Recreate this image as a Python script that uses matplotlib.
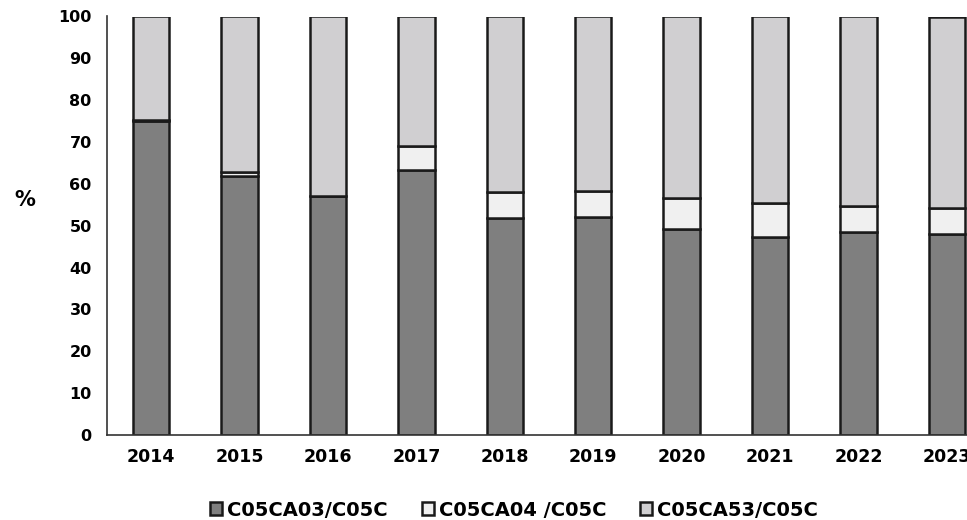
import numpy as np
import matplotlib.pyplot as plt

# shares of C05C (%)
years = ['2014', '2015', '2016', '2017', '2018', '2019', '2020', '2021', '2022', '2023']
c05ca03 = [75.0, 62.0, 57.2, 63.4, 51.8, 52.1, 49.2, 47.3, 48.4, 48.1]
c05ca04 = [0.3, 0.8, 0.0, 5.6, 6.2, 6.3, 7.4, 8.1, 6.2, 6.1]
c05ca53 = [24.7, 37.2, 42.8, 31.0, 42.0, 41.6, 43.4, 44.6, 45.4, 45.8]
labels = ['C05CA03/C05C', 'C05CA04 /C05C', 'C05CA53/C05C']

plt.rcParams['font.family'] = 'DejaVu Sans'
plt.rcParams['font.weight'] = 'bold'

fig = plt.figure(figsize=(9.67, 5.2), dpi=100)
# the right part of the original chart is cut off, so the axes run past the figure edge
ax = fig.add_axes([107 / 967, 85 / 520, 884 / 967, 418.5 / 520])

x = np.arange(len(years))
w = 0.41
edge = dict(edgecolor='#1a1a1a', linewidth=1.8)

b1 = ax.bar(x, c05ca03, w, color='#7f7f7f', label=labels[0], **edge)
bottom2 = np.array(c05ca03)
b2 = ax.bar(x, c05ca04, w, bottom=bottom2, color='#f0f0f0', label=labels[1], **edge)
bottom3 = bottom2 + np.array(c05ca04)
b3 = ax.bar(x, c05ca53, w, bottom=bottom3, color='#d0cfd1', label=labels[2], **edge)

ax.set_xlim(-0.5, len(years) - 0.5)
ax.set_ylim(0, 100)
ax.set_yticks(range(0, 101, 10))
ax.set_xticks(x)
ax.set_xticklabels(years)

ax.spines['top'].set_visible(False)
ax.spines['right'].set_visible(False)
ax.spines['left'].set_color('#333333')
ax.spines['bottom'].set_color('#333333')
ax.spines['left'].set_linewidth(1.2)
ax.spines['bottom'].set_linewidth(1.2)
ax.tick_params(axis='y', length=0, pad=11, labelsize=11.5)
ax.tick_params(axis='x', length=0, pad=9, labelsize=12.5)

fig.text(25 / 967, 1 - 200 / 520, '%', fontsize=15, fontweight='bold', ha='center', va='center')

fig.legend(handles=[b1, b2, b3], loc='center', bbox_to_anchor=(514 / 967, 1 - 510 / 520),
           ncol=3, frameon=False, fontsize=14, handlelength=0.62, handleheight=0.62,
           handletextpad=0.26, columnspacing=1.75, borderpad=0)

fig.savefig('out.png', dpi=100)
